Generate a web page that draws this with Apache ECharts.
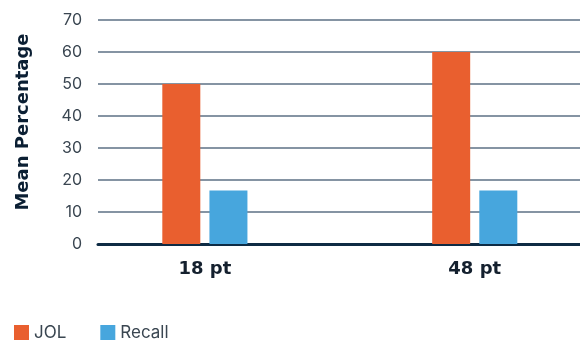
<!DOCTYPE html>
<html lang="en">
<head>
    <meta charset="UTF-8">
    <title>mean_percentage_bar</title>
    <style type="text/css">
        html, body { margin: 0; padding: 0; background: #fff; }
        #box { width: 580px; height: 340px; }
    </style>
</head>
<body>
<div id="box"></div>
<script type="text/javascript" src="https://cdn.jsdelivr.net/npm/echarts@6/dist/echarts.min.js"></script>
<script type="text/javascript">
    let categories = ['18 pt', '48 pt'];
    let jolValues = [50, 60];
    let recallValues = [16.7, 16.7];
    let yTicks = [0, 10, 20, 30, 40, 50, 60, 70];

    let myChart = echarts.init(document.getElementById('box'));
    let boldFont = '"DejaVu Sans", sans-serif';
    let lightFont = 'Inter, "Open Sans", sans-serif';

    // categories sit on a numeric x scale so the outer margins can be narrower than half a band
    let toPairs = function (values) {
        return values.map(function (v, i) {
            return [i, v];
        });
    };

    let option = {
        animation: false,
        grid: {left: 98, top: 20, width: 482, height: 224},
        legend: {
            left: 9,
            top: 319,
            itemWidth: 15,
            itemHeight: 15,
            itemGap: 34,
            icon: 'rect',
            textStyle: {fontSize: 17, color: '#3a4651', fontFamily: lightFont},
            data: ['JOL', 'Recall']
        },
        xAxis: {
            type: 'value',
            min: -0.396,
            max: 1.39,
            axisLine: {show: true, onZero: false, lineStyle: {color: '#0e2b44', width: 3}},
            axisTick: {show: false},
            splitLine: {show: false},
            axisLabel: {
                customValues: categories.map(function (c, i) {
                    return i;
                }),
                formatter: function (v) {
                    return categories[Math.round(v)];
                },
                margin: 16,
                fontSize: 18,
                fontWeight: 'bold',
                color: '#14202e',
                fontFamily: boldFont
            }
        },
        yAxis: {
            type: 'value',
            min: yTicks[0],
            max: yTicks[yTicks.length - 1],
            interval: 10,
            name: 'Mean Percentage',
            nameLocation: 'middle',
            nameGap: 66,
            nameTextStyle: {
                fontSize: 18,
                fontWeight: 'bold',
                color: '#0b1f33',
                fontFamily: boldFont,
                padding: [0, 0, 0, 20]
            },
            axisLine: {show: false},
            axisTick: {show: false},
            axisLabel: {
                margin: 16,
                fontSize: 16,
                color: '#3a4651',
                fontFamily: lightFont
            },
            splitLine: {lineStyle: {color: '#5d7184', width: 1.5}}
        },
        series: [
            {
                name: 'JOL',
                type: 'bar',
                barWidth: 38,
                barGap: '24%',
                itemStyle: {color: '#e95f2f'},
                data: toPairs(jolValues)
            },
            {
                name: 'Recall',
                type: 'bar',
                barWidth: 38,
                barGap: '24%',
                itemStyle: {color: '#47a6dd'},
                data: toPairs(recallValues)
            }
        ]
    };
    myChart.setOption(option);
</script>
</body>
</html>
